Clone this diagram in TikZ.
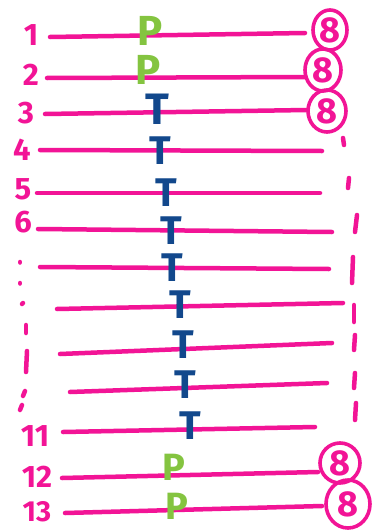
\documentclass[tikz,border=0pt]{standalone}
\usepackage{fontspec}
\setmainfont{Fira Sans}
\usetikzlibrary{shapes.geometric}
\definecolor{mag}{RGB}{242,20,150}
\definecolor{grn}{RGB}{132,196,64}
\definecolor{blu}{RGB}{18,72,140}
\tikzset{
  numlbl/.style={text=mag,font=\fontsize{31}{31}\selectfont\bfseries,inner sep=0pt},
  plbl/.style={text=grn,font=\fontsize{42}{42}\selectfont\bfseries,inner sep=0pt},
  tlbl/.style={text=blu,font=\fontsize{40}{40}\selectfont\bfseries,inner sep=0pt},
  eightc/.style={ellipse,draw=mag,line width=3.6pt,text=mag,inner sep=0pt,
    font=\fontsize{36}{36}\selectfont\bfseries},
  strand/.style={draw=mag,line width=4.5pt,line cap=round},
  tick/.style={draw=mag,line width=4.5pt,line cap=round}
}
\begin{document}
\begin{tikzpicture}[x=1pt,y=-1pt]
\useasboundingbox[fill=white] (0,0) rectangle (372,530);
% labels on the left
\node[numlbl] (n1) at (31,35) {1};
\node[numlbl] (n2) at (31,75) {2};
\node[numlbl] (n3) at (26,113) {3};
\node[numlbl] (n4) at (22,150) {4};
\node[numlbl] (n5) at (23,189) {5};
\node[numlbl] (n6) at (23,222) {6};
\node[numlbl] (n11) at (35,436) {11};
\node[numlbl] (n12) at (37,477) {12};
\node[numlbl,font=\fontsize{29}{29}\selectfont\bfseries] (n13) at (37,512) {13};
% left dotted marks
\draw[tick] (20,262) -- (20,262.5);
\draw[tick] (20,283) -- (20,283.5);
\draw[tick] (23,303) -- (22,304);
\draw[tick] (26,325) -- (26,333);
\draw[tick] (27,351) -- (26,372);
\draw[tick] (25,391) -- (23,396);
\draw[tick] (22,405) -- (20,410);
% strand end points
\coordinate (s1) at (50,37);   \coordinate (e1) at (305,33);
\coordinate (s2) at (47,78);   \coordinate (e2) at (305,77);
\coordinate (s3) at (45,114);  \coordinate (e3) at (307,110);
\coordinate (s4) at (40,150);  \coordinate (e4) at (322,151);
\coordinate (s5) at (37,193);  \coordinate (e5) at (320,193);
\coordinate (s6) at (38,229);  \coordinate (e6) at (332,232);
\coordinate (s7) at (40,267);  \coordinate (e7) at (329,269);
\coordinate (s8) at (57,309);  \coordinate (e8) at (343,303);
\coordinate (s9) at (60,354);  \coordinate (e9) at (332,343);
\coordinate (s10) at (70,392); \coordinate (e10) at (327,383);
\coordinate (s11) at (63,432); \coordinate (e11) at (315,427);
\coordinate (s12) at (62,478); \coordinate (e12) at (318,472);
\coordinate (s13) at (65,513); \coordinate (e13) at (322,506);
\foreach \i in {1,...,13}{\draw[strand] (s\i) -- (e\i);}
% letters
\node[plbl] (p1) at (150,31) {P};
\node[plbl] (p2) at (148,70) {P};
\node[tlbl,font=\fontsize{44}{44}\selectfont\bfseries] (t3) at (157,109) {T};
\node[tlbl] (t4) at (160,151) {T};
\node[tlbl] (t5) at (166,193) {T};
\node[tlbl] (t6) at (171,231) {T};
\node[tlbl] (t7) at (172,268) {T};
\node[tlbl] (t8) at (180,305) {T};
\node[tlbl] (t9) at (183,345) {T};
\node[tlbl] (t10) at (185,385) {T};
\node[tlbl] (t11) at (190,426) {T};
\node[plbl,font=\fontsize{38}{38}\selectfont\bfseries] (p12) at (174,467) {P};
\node[plbl,font=\fontsize{38}{38}\selectfont\bfseries] (p13) at (177,506) {P};
% circled eights
\node[eightc,minimum width=34pt,minimum height=40pt] (c1) at (330,30) {8};
\node[eightc,minimum width=36pt,minimum height=42pt] (c2) at (323,70) {8};
\node[eightc,minimum width=38pt,minimum height=42pt] (c3) at (327,111) {8};
\node[eightc,minimum width=40pt,minimum height=40pt] (c12) at (340,463) {8};
\node[eightc,minimum width=44pt,minimum height=48pt] (c13) at (348,504) {8};
% right dashed marks
\draw[tick] (343,138) -- (344,145);
\draw[tick] (349,178) -- (348,188);
\draw[tick] (357,215) -- (355,232);
\draw[tick] (353,257) -- (352,283);
\draw[tick] (354,305) -- (354,322);
\draw[tick] (355,335) -- (354,350);
\draw[tick] (355,373) -- (354,388);
\draw[tick] (356,403) -- (355,420);
\end{tikzpicture}
\end{document}
